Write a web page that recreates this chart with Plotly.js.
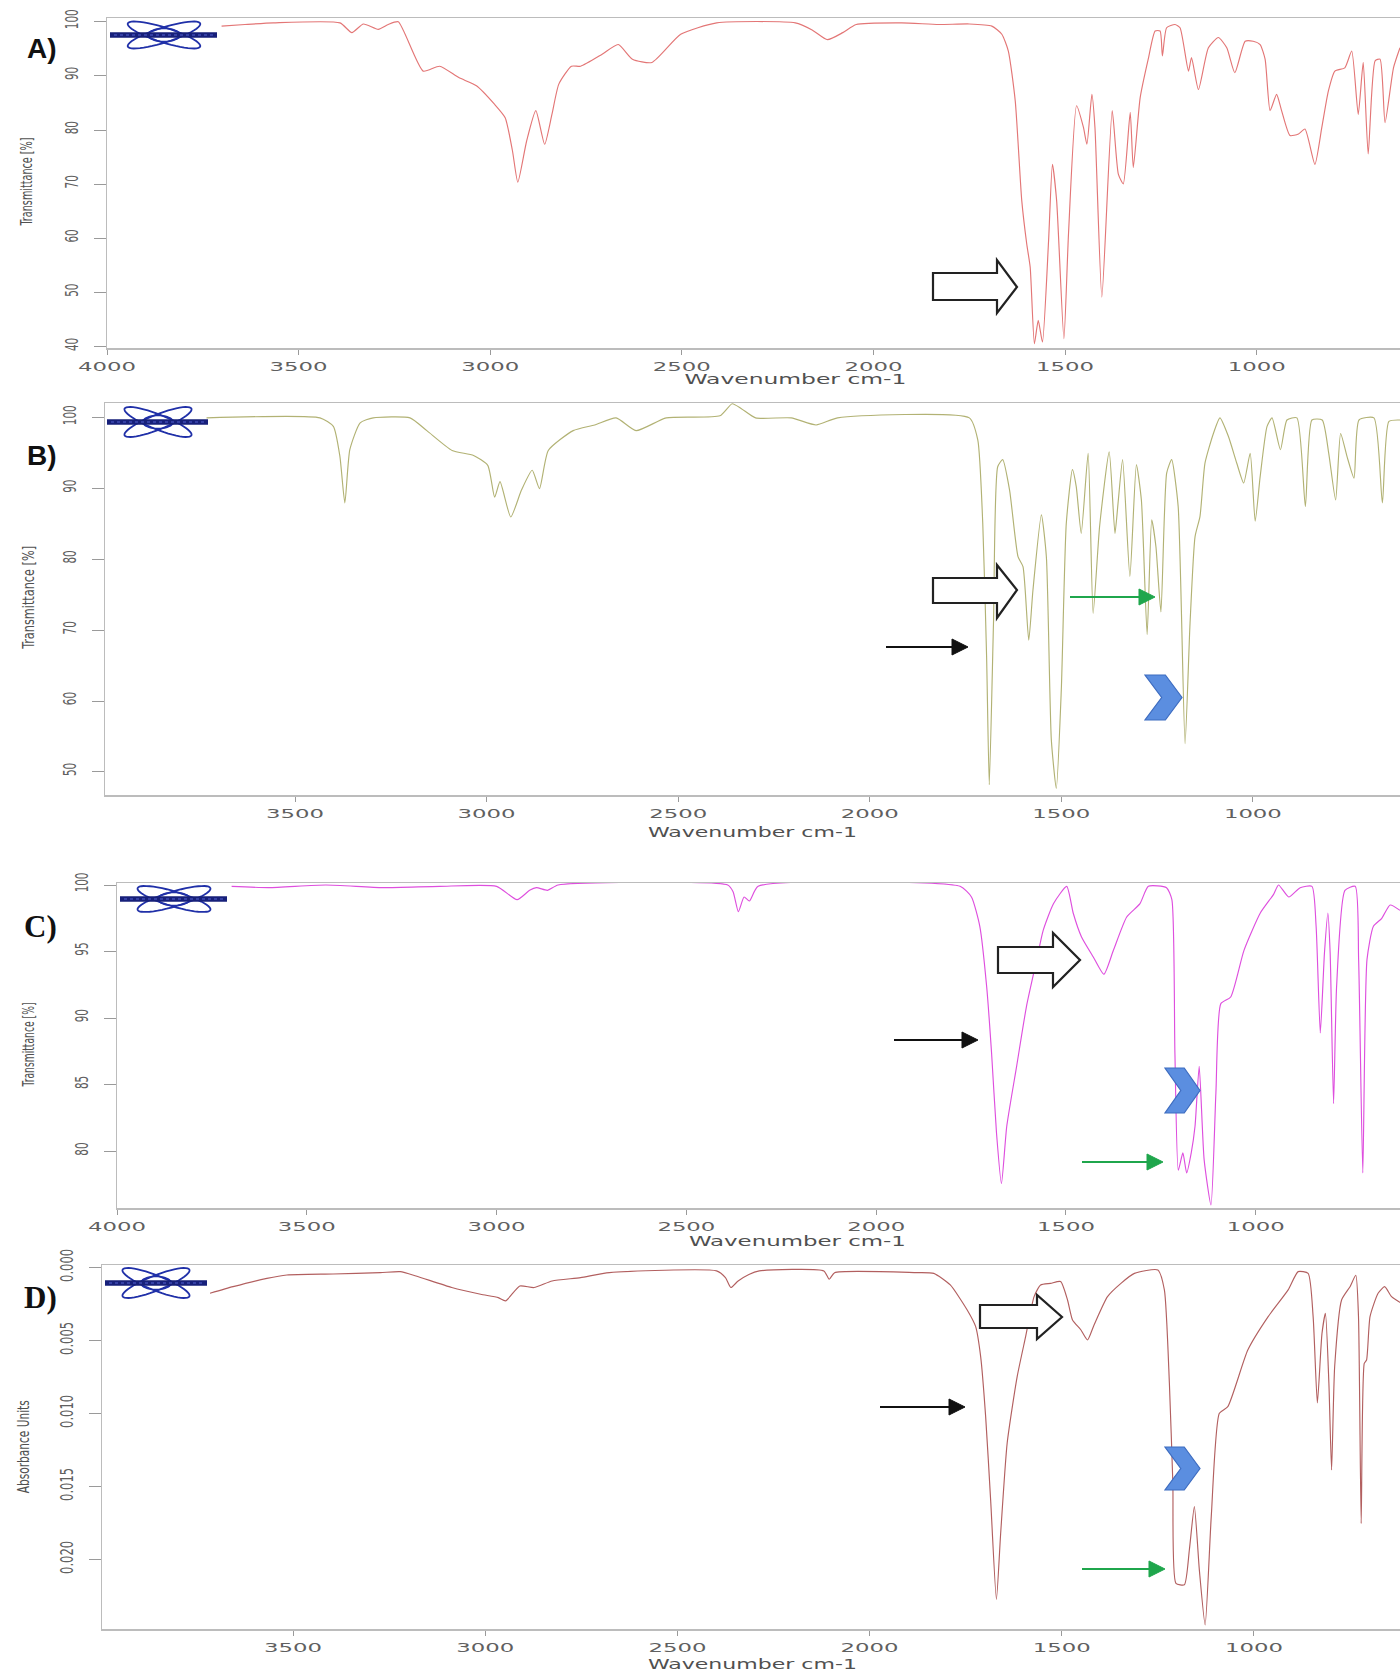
<!DOCTYPE html>
<html>
<head>
<meta charset="utf-8">
<script src="https://cdn.plot.ly/plotly-3.0.1.min.js"></script>
<style>
  html, body { margin: 0; padding: 0; background: #ffffff; }
  #chart { width: 1400px; height: 1673px; }
</style>
</head>
<body>
<div id="chart"></div>
<script>
// ---------------- DATA ----------------
// Panel A – transmittance [%]
const wavenumberA = [3701,3640,3566,3392,3361,3331,3292,3266,3240,3175,3132,3082,3036,2989,2961,2942,2928,2905,2881,2858,2839,2821,2788,2764,2708,2666,2629,2578,2503,2409,2204,2160,2120,2080,2045,1926,1830,1750,1691,1665,1648,1630,1613,1600,1591,1580,1570,1559,1543,1533,1522,1503,1491,1470,1452,1443,1430,1422,1404,1377,1361,1348,1330,1322,1304,1283,1265,1252,1246,1235,1213,1200,1178,1170,1152,1126,1100,1078,1057,1030,1009,991,978,965,948,935,913,891,874,848,830,813,796,770,752,735,722,709,691,678,665,643,626];
const transmittanceA = [99.2,99.5,99.8,99.8,98.0,99.6,98.6,99.5,100.0,90.9,91.8,89.7,88.2,84.8,82.3,76.2,70.4,78.0,83.6,77.4,82.9,88.5,91.8,91.8,94.0,95.8,93.1,92.5,97.7,99.8,99.8,98.5,96.7,98.0,99.5,99.8,99.5,99.6,99.2,97.7,94.6,85.4,67.0,59.0,54.7,40.6,44.9,40.9,59.6,73.7,67.0,41.5,60.9,84.5,80.5,77.4,86.6,80.5,49.2,83.6,71.9,70.1,83.3,73.1,86.0,93.1,98.3,98.3,93.7,98.9,99.5,98.9,90.9,93.4,87.5,95.2,97.1,95.2,90.6,96.4,96.4,95.8,93.1,83.6,86.6,83.6,79.0,79.3,80.2,73.7,80.5,87.2,90.9,91.5,94.6,82.9,92.5,75.6,92.8,93.1,81.4,91.5,95.2];

// Panel B – transmittance [%]
const wavenumberB = [3731,3435,3400,3383,3370,3357,3330,3296,3200,3156,3090,3034,2997,2979,2965,2937,2909,2881,2862,2839,2774,2718,2662,2610,2531,2391,2359,2335,2298,2205,2140,2084,1740,1718,1705,1695,1688,1677,1666,1653,1635,1613,1600,1585,1574,1552,1539,1526,1513,1500,1487,1471,1461,1448,1430,1417,1400,1375,1360,1352,1340,1321,1304,1291,1276,1264,1253,1240,1225,1212,1195,1177,1164,1151,1138,1125,1103,1086,1064,1042,1024,1007,994,981,963,950,928,911,885,863,846,819,802,784,771,754,736,723,684,662,645,615];
const transmittanceB = [100,100,98.8,94.6,88.0,95.5,99.3,100,100,98.2,95.4,94.7,93.3,88.8,91.0,86.0,89.8,92.6,90.0,95.4,98.2,99.0,100,98.2,100,100.3,102.0,101.3,100,100,99.0,100,100,96.9,85.1,66.3,48.2,71.0,93.1,94.1,89.8,80.4,79.0,68.6,75.7,86.3,80.4,54.5,47.7,61.6,85.1,92.7,90.3,83.7,95.0,72.4,84.7,95.2,83.7,87.9,94.1,77.6,93.4,88.4,69.4,85.6,81.8,72.6,92.2,94.1,87.5,54.0,71.0,83.2,86.1,93.6,97.8,100,97.4,93.6,90.8,95.0,85.4,91.7,98.8,100,95.5,99.7,100,87.5,99.7,99.7,95.0,88.4,97.8,94.5,91.5,99.7,100,88.0,99.5,99.7];

// Panel C – transmittance [%]
const wavenumberC = [3698,3600,3450,3300,3150,3000,2946,2913,2895,2866,2838,2391,2377,2363,2348,2334,2311,1779,1749,1727,1709,1696,1683,1670,1656,1630,1604,1577,1560,1533,1498,1481,1459,1428,1400,1375,1340,1305,1283,1235,1221,1213,1204,1192,1182,1170,1160,1149,1136,1118,1105,1092,1066,1031,988,953,940,913,883,852,841,830,819,810,804,795,787,765,738,729,718,707,690,668,646,620];
const transmittanceC = [99.9,99.8,100,99.8,99.9,99.9,98.9,99.6,99.8,99.6,100,100,99.5,98.0,99.1,98.8,99.9,99.9,99.1,96.9,92.4,87.4,81.4,77.6,81.9,86.4,90.9,94.4,96.6,98.6,99.9,97.9,96.1,94.6,93.3,95.1,97.6,98.6,99.9,99.8,98.9,87.4,78.6,79.9,78.4,79.9,81.9,86.4,79.4,76.0,84.4,91.1,91.6,95.1,97.9,99.3,100,99.1,99.8,99.9,96.9,88.9,94.9,97.9,94.9,83.6,92.4,99.6,99.9,94.4,78.4,94.4,96.9,97.5,98.5,98.1];

// Panel D – absorbance units
const wavenumberD = [3716,3656,3568,3516,3396,3273,3221,3180,3087,3012,2966,2947,2910,2873,2826,2752,2677,2398,2375,2361,2342,2314,2287,2119,2105,2091,1877,1833,1790,1746,1724,1711,1698,1685,1670,1659,1642,1616,1594,1572,1555,1529,1503,1485,1472,1450,1433,1416,1381,1346,1311,1250,1233,1220,1211,1203,1181,1168,1155,1142,1127,1111,1090,1068,1016,963,911,885,859,846,835,823,814,805,798,790,772,750,735,728,721,713,707,698,677,660,642,616];
const absorbanceD = [0.00173,0.00128,0.00071,0.00048,0.00041,0.00032,0.00025,0.00055,0.00134,0.0018,0.00203,0.00225,0.00123,0.00134,0.00089,0.00066,0.00032,0.0002,0.00066,0.00134,0.00089,0.00044,0.0002,0.0002,0.00077,0.00032,0.00032,0.00037,0.00116,0.00288,0.00402,0.00607,0.01018,0.0159,0.0227,0.0182,0.01199,0.00744,0.0047,0.00196,0.00116,0.00105,0.00093,0.00219,0.00356,0.00425,0.00493,0.0039,0.00196,0.00105,0.00037,0.00014,0.0015,0.00788,0.0147,0.0216,0.0217,0.0193,0.01635,0.0207,0.02445,0.0170,0.00995,0.0095,0.00562,0.00333,0.0015,0.00025,0.00037,0.00333,0.00925,0.0045,0.00311,0.0079,0.01384,0.00676,0.00219,0.00128,0.0005,0.00333,0.0175,0.00653,0.0063,0.00333,0.00173,0.00128,0.00196,0.00242];

// Tick labels
const xTickVals = [4000,3500,3000,2500,2000,1500,1000];
const xTickText = ['4000','3500','3000','2500','2000','1500','1000'];
const yTickValsA = [40,50,60,70,80,90,100];
const yTickValsB = [50,60,70,80,90,100];
const yTickValsC = [80,85,90,95,100];
const yTickValsD = [0,0.005,0.010,0.015,0.020];
const yTickTextD = ['0.000','0.005','0.010','0.015','0.020'];

// ---------------- LAYOUT HELPERS ----------------
const W = 1400, H = 1673;
const PX = x => x / W;
const PY = y => 1 - y / H;
const xDom = (a, b) => [a / W, b / W];
const yDom = (top, bottom) => [1 - bottom / H, 1 - top / H];

function xAxis(domain, range, anchor) {
  return {
    domain, range, anchor,
    showline: true, linecolor: '#bcbcbc', linewidth: 1.5, mirror: true,
    ticks: 'outside', ticklen: 5, tickwidth: 1, tickcolor: '#9a9a9a',
    tickmode: 'array', tickvals: xTickVals, ticktext: xTickText,
    tickfont: { family: 'DejaVu Sans', size: 12, color: '#606060' },
    ticklabelstandoff: 2,
    showgrid: false, zeroline: false, fixedrange: true
  };
}
function yAxis(domain, range, anchor, vals, text) {
  const ax = {
    domain, range, anchor,
    showline: true, linecolor: '#bcbcbc', linewidth: 1.5, mirror: false,
    ticks: 'outside', ticklen: 12, tickwidth: 1, tickcolor: '#9a9a9a',
    tickmode: 'array', tickvals: vals, tickangle: -90,
    tickfont: { family: 'Liberation Sans Narrow, DejaVu Sans Condensed, Arial Narrow, sans-serif', size: 17, color: '#606060' },
    ticklabelstandoff: 9,
    showgrid: false, zeroline: false, fixedrange: true
  };
  if (text) ax.ticktext = text;
  return ax;
}

const lineStyle = (c) => ({ color: c, width: 1.15, shape: 'spline', smoothing: 0.55 });
const data = [
  { x: wavenumberA, y: transmittanceA, xaxis: 'x',  yaxis: 'y',  mode: 'lines', line: lineStyle('#e37676'), hoverinfo: 'skip' },
  { x: wavenumberB, y: transmittanceB, xaxis: 'x2', yaxis: 'y2', mode: 'lines', line: lineStyle('#b2b274'), hoverinfo: 'skip' },
  { x: wavenumberC, y: transmittanceC, xaxis: 'x3', yaxis: 'y3', mode: 'lines', line: lineStyle('#de4fde'), hoverinfo: 'skip' },
  { x: wavenumberD, y: absorbanceD,    xaxis: 'x4', yaxis: 'y4', mode: 'lines', line: lineStyle('#b25f5f'), hoverinfo: 'skip' }
];

// ---------------- DECORATIONS (pixel-placed) ----------------
const shapes = [];
function pathFromPts(pts) {
  return 'M ' + pts.map(p => PX(p[0]).toFixed(5) + ',' + PY(p[1]).toFixed(5)).join(' L ') + ' Z';
}
function ellipsePts(cx, cy, a, b, th) {
  const pts = [];
  for (let i = 0; i < 48; i++) {
    const t = 2 * Math.PI * i / 48;
    pts.push([cx + a * Math.cos(t) * Math.cos(th) - b * Math.sin(t) * Math.sin(th),
              cy + a * Math.cos(t) * Math.sin(th) + b * Math.sin(t) * Math.cos(th)]);
  }
  return pts;
}
function logo(cx, cy, a, halfH, barL, barR) {
  const b = 7.5;
  const th = Math.asin(Math.sqrt(Math.max(0, (halfH * halfH - b * b) / (a * a - b * b))));
  [th, -th].forEach(t => shapes.push({ type: 'path', xref: 'paper', yref: 'paper',
    path: pathFromPts(ellipsePts(cx, cy, a, b, t)), line: { color: '#2030a8', width: 1.8 } }));
  shapes.push({ type: 'path', xref: 'paper', yref: 'paper',
    path: pathFromPts(ellipsePts(cx, cy, a * 0.42, 6.5, 0)), line: { color: '#2030a8', width: 1.6 } });
  shapes.push({ type: 'line', xref: 'paper', yref: 'paper', x0: PX(barL), x1: PX(barR), y0: PY(cy), y1: PY(cy),
    line: { color: '#17207a', width: 5.5 } });
  shapes.push({ type: 'line', xref: 'paper', yref: 'paper', x0: PX(barL + 4), x1: PX(barR - 4), y0: PY(cy), y1: PY(cy),
    line: { color: '#5561cf', width: 1.2, dash: 'dot' } });
}
logo(164, 35, 38, 13.5, 110, 217);
logo(158, 422, 36, 15, 107, 208);
logo(174, 899, 38, 13, 120, 227);
logo(156, 1283, 36, 15, 105, 207);

function hollowArrow(x0, xb, xt, yb0, yb1, yh0, yh1, ytip) {
  shapes.push({ type: 'path', xref: 'paper', yref: 'paper',
    path: pathFromPts([[x0, yb0], [xb, yb0], [xb, yh0], [xt, ytip], [xb, yh1], [xb, yb1], [x0, yb1]]),
    fillcolor: '#ffffff', line: { color: '#222222', width: 2.2 } });
}
hollowArrow(933, 997, 1017, 273, 300, 260, 313, 287);
hollowArrow(933, 997, 1017, 578, 603, 565, 618, 590);
hollowArrow(998, 1053, 1080, 947, 973, 933, 987, 960);
hollowArrow(980, 1037, 1062, 1305, 1328, 1295, 1339, 1317);

function thinArrow(x0, x1, y, color) {
  shapes.push({ type: 'line', xref: 'paper', yref: 'paper', x0: PX(x0), x1: PX(x1 - 14), y0: PY(y), y1: PY(y),
    line: { color: color, width: 1.8 } });
  shapes.push({ type: 'path', xref: 'paper', yref: 'paper',
    path: pathFromPts([[x1 - 16, y - 8], [x1, y], [x1 - 16, y + 8]]),
    fillcolor: color, line: { color: color, width: 1 } });
}
thinArrow(886, 968, 647, '#111111');
thinArrow(1070, 1155, 597, '#1fa64c');
thinArrow(894, 978, 1040, '#111111');
thinArrow(1082, 1163, 1162, '#1fa64c');
thinArrow(880, 965, 1407, '#111111');
thinArrow(1082, 1165, 1569, '#1fa64c');

function chevron(x0, x1, y0, y1) {
  const w = x1 - x0, ym = (y0 + y1) / 2;
  shapes.push({ type: 'path', xref: 'paper', yref: 'paper',
    path: pathFromPts([[x0, y0], [x0 + 0.55 * w, y0], [x1, ym], [x0 + 0.55 * w, y1], [x0, y1], [x0 + 0.45 * w, ym]]),
    fillcolor: '#5b8ee0', line: { color: '#3d6cc0', width: 1.2 } });
}
chevron(1145, 1182, 675, 720);
chevron(1165, 1200, 1068, 1113);
chevron(1165, 1200, 1447, 1490);

// ---------------- TEXT ANNOTATIONS ----------------
const annotations = [];
function txt(text, x, y, font, angle) {
  annotations.push({ text, x: PX(x), y: PY(y), xref: 'paper', yref: 'paper', showarrow: false,
    xanchor: 'center', yanchor: 'middle', textangle: angle || 0, font });
}
const sansBold = { family: 'Liberation Sans, Arial, sans-serif', size: 28, color: '#111', weight: 'bold' };
const serifBold = { family: 'Liberation Serif, Times New Roman, serif', size: 31, color: '#111', weight: 'bold' };
txt('<b>A)</b>', 42, 48, sansBold);
txt('<b>B)</b>', 42, 455, sansBold);
txt('<b>C)</b>', 40, 926, serifBold);
txt('<b>D)</b>', 40, 1297, serifBold);

const narrow = s => ({ family: 'Liberation Sans Narrow, DejaVu Sans Condensed, Arial Narrow, sans-serif', size: s, color: '#505050' });
txt('Transmittance [%]', 27, 182, narrow(15), -90);
txt('Transmittance [%]', 28, 598, narrow(16), -90);
txt('Transmittance [%]', 29, 1045, narrow(15), -90);
txt('Absorbance Units', 24, 1447, narrow(15), -90);
const yTitleLengths = [88, 103, 84, 93];

const xTitleFont = { family: 'DejaVu Sans', size: 14, color: '#505050' };
txt('Wavenumber cm-1', 795, 379, xTitleFont);
txt('Wavenumber cm-1', 752, 832, xTitleFont);
txt('Wavenumber cm-1', 798, 1241, xTitleFont);
txt('Wavenumber cm-1', 753, 1664, xTitleFont);
const xTitleWidths = [222, 209, 217, 209];

const layout = {
  width: W, height: H,
  margin: { l: 0, r: 0, t: 0, b: 0 },
  paper_bgcolor: '#ffffff', plot_bgcolor: '#ffffff',
  showlegend: false,
  xaxis:  xAxis(xDom(107, 1400), [4000, 626], 'y'),
  yaxis:  yAxis(yDom(18, 348),   [39.8, 100.7], 'x', yTickValsA),
  xaxis2: xAxis(xDom(105, 1400), [3996, 616], 'y2'),
  yaxis2: yAxis(yDom(403, 795),  [46.75, 102.1], 'x2', yTickValsB),
  xaxis3: xAxis(xDom(117, 1400), [4000, 620], 'y3'),
  yaxis3: yAxis(yDom(883, 1208), [75.77, 100.15], 'x3', yTickValsC),
  xaxis4: xAxis(xDom(102, 1400), [3997, 620], 'y4'),
  yaxis4: yAxis(yDom(1265, 1629), [0.02473, -0.000205], 'x4', yTickValsD, yTickTextD),
  shapes, annotations
};

function stretch(t, len) {
  t.setAttribute('textLength', len);
  t.setAttribute('lengthAdjust', 'spacingAndGlyphs');
}
Plotly.newPlot('chart', data, layout, { staticPlot: true, displayModeBar: false }).then(gd => {
  // the reference's axis lettering is stretched along the x direction
  gd.querySelectorAll('.xaxislayer-above text').forEach(t => stretch(t, 14.5 * t.textContent.length));
  gd.querySelectorAll('.yaxislayer-above text').forEach(t => stretch(t, 6.6 * t.textContent.length));
  const all = Array.from(gd.querySelectorAll('text.annotation-text'));
  all.filter(t => t.textContent === 'Wavenumber cm-1').forEach((t, i) => stretch(t, xTitleWidths[i]));
  all.filter(t => /Transmittance|Absorbance/.test(t.textContent)).forEach((t, i) => stretch(t, yTitleLengths[i]));
});
</script>
</body>
</html>
